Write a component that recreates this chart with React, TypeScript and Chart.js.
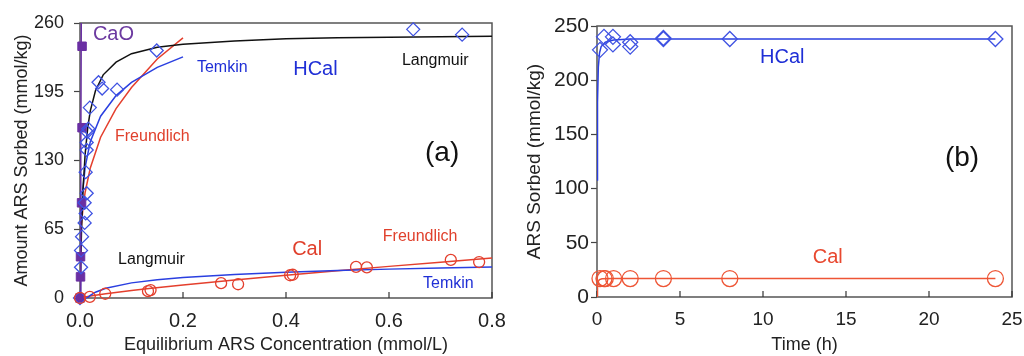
import React, { useEffect, useRef } from "react";
import { Chart, registerables } from "chart.js";
Chart.register(...registerables);

const FONT = "'Liberation Sans', Arial, Helvetica, sans-serif";

// ---------- Panel (a): isotherms ----------
const xTicksA = [0, 0.2, 0.4, 0.6, 0.8];
const yTicksA = [0, 65, 130, 195, 260];

const hcalConc = [0.0, 0.002, 0.002, 0.004, 0.009, 0.011, 0.009, 0.013, 0.011, 0.013, 0.013, 0.014, 0.016, 0.019, 0.036, 0.043, 0.072, 0.149, 0.647, 0.742];
const hcalSorbed = [0, 29, 45, 58, 71, 80, 90, 99, 119, 140, 147, 157, 160, 180, 204, 198, 197, 234, 254, 249];

const calConc = [0.0, 0.019, 0.049, 0.132, 0.137, 0.274, 0.307, 0.408, 0.413, 0.536, 0.557, 0.72, 0.775];
const calSorbed = [0, 1, 4, 6.5, 7.5, 14, 13, 21.5, 22, 29.4, 29, 36, 34];

const caoConc = [0.0, 0.001, 0.001, 0.003, 0.004, 0.004];
const caoSorbed = [0, 20, 39, 90, 161, 238];

const caoFitX = [0, 0.0015, 0.0025];
const caoFitY = [0, 130, 265];

const hcalLangX = [0, 0.003, 0.006, 0.01, 0.015, 0.02, 0.03, 0.045, 0.07, 0.1, 0.15, 0.2, 0.3, 0.4, 0.5, 0.6, 0.7, 0.8];
const hcalLangY = [0, 66, 104, 136, 161, 177, 196, 211, 223, 231, 237, 240, 243, 245, 246, 246.6, 247, 247.4];

const hcalTemkinX = [0.0003, 0.001, 0.002, 0.005, 0.01, 0.02, 0.04, 0.07, 0.1, 0.15, 0.2];
const hcalTemkinY = [1.7, 43.6, 67.7, 99.6, 123.7, 147.8, 171.9, 191.4, 203.9, 218, 228];

const hcalFreundX = [0.001, 0.003, 0.006, 0.01, 0.02, 0.04, 0.07, 0.1, 0.15, 0.2];
const hcalFreundY = [50, 70, 86, 100, 123, 152, 179, 199, 226, 246];

const calFreundX = [0, 0.02, 0.05, 0.1, 0.134, 0.2, 0.3, 0.4, 0.5, 0.6, 0.7, 0.8];
const calFreundY = [0, 1.9, 4, 7, 8.9, 12.3, 17.1, 21.6, 25.8, 29.9, 33.9, 37.8];

const calTemkinX = [0.014, 0.02, 0.03, 0.05, 0.1, 0.15, 0.2, 0.3, 0.4, 0.5, 0.6, 0.7, 0.8];
const calTemkinY = [0, 2.6, 5.5, 9.2, 14.3, 17.2, 19.3, 22.3, 24.4, 26, 27.3, 28.4, 29.4];

// ---------- Panel (b): kinetics ----------
const xTicksB = [0, 5, 10, 15, 20, 25];
const yTicksB = [0, 50, 100, 150, 200, 250];

const kinTimeHCal = [0.18, 0.42, 0.96, 0.96, 2, 2, 4, 4, 8, 24];
const kinHCal = [228, 240, 240, 233, 235, 231, 238, 239, 238, 238];

const kinTimeCal = [0.18, 0.42, 0.5, 1, 2, 4, 8, 24];
const kinCal = [17, 17, 17, 17, 17, 17, 17, 17];

const kinFitTimeHCal = [0, 0.03, 0.08, 0.15, 0.25, 0.5, 1, 2, 4, 8, 24];
const kinFitHCal = [108, 180, 212, 225, 231, 235, 237, 238, 238, 238, 238];

const kinFitTimeCal = [0, 0.03, 0.08, 0.15, 0.3, 1, 24];
const kinFitCal = [0, 10, 14.5, 16, 16.8, 17, 17];

// ---------- texts ----------
const titleXA = "Equilibrium ARS Concentration (mmol/L)";
const titleYA = "Amount ARS Sorbed (mmol/kg)";
const titleXB = "Time (h)";
const titleYB = "ARS Sorbed (mmol/kg)";

const notesTextA = ["CaO", "Temkin", "HCal", "Langmuir", "Freundlich", "(a)", "Cal", "Freundlich", "Temkin", "Langmuir"];
const notesTextB = ["HCal", "Cal", "(b)"];

// label anchors (data units) and styles
const notesPosA = [[0.025, 249.6], [0.227, 217.5], [0.414, 215.6], [0.625, 224], [0.068, 153], [0.67, 137], [0.412, 46.3], [0.588, 57.7], [0.666, 13.2], [0.074, 36]];
const notesStyleA = [[20, "#6c3aa0"], [16, "#1f2fd6"], [20, "#1f2fd6"], [16, "#111"], [16, "#e0402c"], [28, "#111"], [20, "#e0402c"], [16, "#e0402c"], [16, "#1f2fd6"], [16, "#111"]];
const notesPosB = [[9.82, 220.5], [13.0, 36.9], [20.96, 128]];
const notesStyleB = [[20, "#1f2fd6"], [20, "#e8482f"], [28, "#111"]];

const zip = (xs: number[], ys: number[]) => xs.map((x, i) => ({ x, y: ys[i] }));

const framePlugin = {
  id: "frame",
  beforeDatasetsDraw(chart: any) {
    const { ctx, chartArea: a } = chart;
    const xs = chart.scales.x;
    ctx.save();
    ctx.strokeStyle = "#555";
    ctx.lineWidth = 1.5;
    ctx.strokeRect(a.left, a.top, a.right - a.left, a.bottom - a.top);
    ctx.strokeStyle = "#333";
    ctx.lineWidth = 1.2;
    xs.ticks.forEach((t: any) => {
      const p = xs.getPixelForValue(t.value);
      ctx.beginPath();
      ctx.moveTo(p, a.bottom);
      ctx.lineTo(p, a.bottom - 6);
      ctx.stroke();
    });
    ctx.restore();
  },
};

const notesPlugin = {
  id: "notes",
  afterDatasetsDraw(chart: any, _args: any, opts: any) {
    const { ctx } = chart;
    const xs = chart.scales.x;
    const ys = chart.scales.y;
    const texts: string[] = opts.texts || [];
    texts.forEach((txt, i) => {
      const [px, py] = opts.pos[i];
      const [size, color] = opts.styles[i];
      ctx.save();
      ctx.font = `${size}px ${FONT}`;
      ctx.fillStyle = color;
      ctx.textBaseline = "middle";
      ctx.textAlign = "left";
      ctx.fillText(txt, xs.getPixelForValue(px), ys.getPixelForValue(py));
      ctx.restore();
    });
  },
};

function lineDs(data: any[], color: string, width = 1.5) {
  return {
    data,
    showLine: true,
    borderColor: color,
    borderWidth: width,
    pointRadius: 0,
    fill: false,
    tension: 0,
    order: 2,
  };
}

function pointDs(data: any[], style: string, radius: number, color: string, fill = "rgba(0,0,0,0)", width = 1.3) {
  return {
    data,
    showLine: false,
    pointStyle: style,
    pointRadius: radius,
    borderColor: color,
    pointBorderColor: color,
    pointBackgroundColor: fill,
    pointBorderWidth: width,
    order: 1,
    clip: false,
  };
}

function buildOptions(o: any) {
  return {
    animation: false,
    responsive: false,
    maintainAspectRatio: false,
    layout: { padding: o.padding },
    plugins: {
      legend: { display: false },
      tooltip: { enabled: false },
      notes: o.notes,
    },
    scales: {
      x: {
        type: "linear",
        min: o.xMin,
        max: o.xMax,
        afterBuildTicks: (s: any) => {
          s.ticks = o.xTicks.map((v: number) => ({ value: v }));
        },
        ticks: {
          font: { family: FONT, size: o.xTickSize },
          color: "#222",
          padding: 11,
          maxRotation: 0,
          autoSkip: false,
          callback: o.xFmt,
        },
        grid: { display: true, drawOnChartArea: false, drawTicks: false },
        border: { display: false },
        title: {
          display: true,
          text: o.xTitle,
          font: { family: FONT, size: o.xTitleSize },
          color: "#222",
          padding: { top: 0, bottom: 0 },
        },
        afterFit: (s: any) => {
          s.height = o.xHeight;
          s.paddingLeft = 0;
          s.paddingRight = 0;
        },
      },
      y: {
        type: "linear",
        min: o.yMin,
        max: o.yMax,
        afterBuildTicks: (s: any) => {
          s.ticks = o.yTicks.map((v: number) => ({ value: v }));
        },
        ticks: {
          font: { family: FONT, size: o.yTickSize },
          color: "#222",
          padding: o.yPad,
          autoSkip: false,
        },
        grid: { display: true, drawOnChartArea: false, drawTicks: true, tickLength: 6, color: "#444", tickWidth: 1.2 },
        border: { display: false },
        title: {
          display: true,
          text: o.yTitle,
          font: { family: FONT, size: o.yTitleSize },
          color: "#222",
          padding: { top: o.yTitlePad, bottom: 0 },
        },
        afterFit: (s: any) => {
          s.width = o.yWidth;
          s.paddingTop = 0;
          s.paddingBottom = 0;
        },
      },
    },
  };
}

export default function App() {
  const refA = useRef<HTMLCanvasElement | null>(null);
  const refB = useRef<HTMLCanvasElement | null>(null);

  useEffect(() => {
    const blue = "#2a3fe0";
    const blueMk = "#3f52e2";
    const red = "#e43f2d";
    const purple = "#6a2fa3";

    const chartA = new Chart(refA.current as HTMLCanvasElement, {
      type: "scatter",
      data: {
        datasets: [
          lineDs(zip(caoFitX, caoFitY), purple),
          lineDs(zip(hcalLangX, hcalLangY), "#111"),
          lineDs(zip(hcalTemkinX, hcalTemkinY), blue),
          lineDs(zip(hcalFreundX, hcalFreundY), red),
          lineDs(zip(calTemkinX, calTemkinY), blue),
          lineDs(zip(calFreundX, calFreundY), red),
          pointDs(zip(calConc, calSorbed), "circle", 5.5, red),
          pointDs(zip(hcalConc, hcalSorbed), "rectRot", 6.5, blueMk),
          pointDs(zip(caoConc, caoSorbed), "rect", 6, purple, purple, 1),
        ] as any,
      },
      options: buildOptions({
        padding: { left: 0, right: 18, top: 23, bottom: 0 },
        xMin: 0, xMax: 0.8, xTicks: xTicksA,
        yMin: 0, yMax: 260, yTicks: yTicksA,
        xFmt: (v: any) => Number(v).toFixed(1),
        xTitle: titleXA, yTitle: titleYA,
        xTickSize: 20, yTickSize: 18, xTitleSize: 18, yTitleSize: 18,
        xHeight: 58, yWidth: 80, yPad: 10, yTitlePad: 11,
        notes: { texts: notesTextA, pos: notesPosA, styles: notesStyleA },
      }) as any,
      plugins: [framePlugin, notesPlugin],
    });

    const redB = "#ee5535";
    const chartB = new Chart(refB.current as HTMLCanvasElement, {
      type: "scatter",
      data: {
        datasets: [
          lineDs(zip(kinFitTimeHCal, kinFitHCal), blue),
          lineDs(zip(kinFitTimeCal, kinFitCal), redB),
          pointDs(zip(kinTimeHCal, kinHCal), "rectRot", 7.5, blueMk),
          pointDs(zip(kinTimeCal, kinCal), "circle", 8, redB),
        ] as any,
      },
      options: buildOptions({
        padding: { left: 0, right: 12, top: 26, bottom: 0 },
        xMin: 0, xMax: 25, xTicks: xTicksB,
        yMin: 0, yMax: 250, yTicks: yTicksB,
        xFmt: (v: any) => String(v),
        xTitle: titleXB, yTitle: titleYB,
        xTickSize: 19, yTickSize: 21, xTitleSize: 18, yTitleSize: 19,
        xHeight: 59, yWidth: 77, yPad: 2, yTitlePad: 3,
        notes: { texts: notesTextB, pos: notesPosB, styles: notesStyleB },
      }) as any,
      plugins: [framePlugin, notesPlugin],
    });

    return () => {
      chartA.destroy();
      chartB.destroy();
    };
  }, []);

  return (
    <div style={{ position: "fixed", left: 0, top: 0, width: 1024, height: 356, background: "#fff" }}>
      <canvas ref={refA} width={510} height={356} style={{ position: "absolute", left: 0, top: 0, width: 510, height: 356 }} />
      <canvas ref={refB} width={504} height={356} style={{ position: "absolute", left: 520, top: 0, width: 504, height: 356 }} />
    </div>
  );
}
